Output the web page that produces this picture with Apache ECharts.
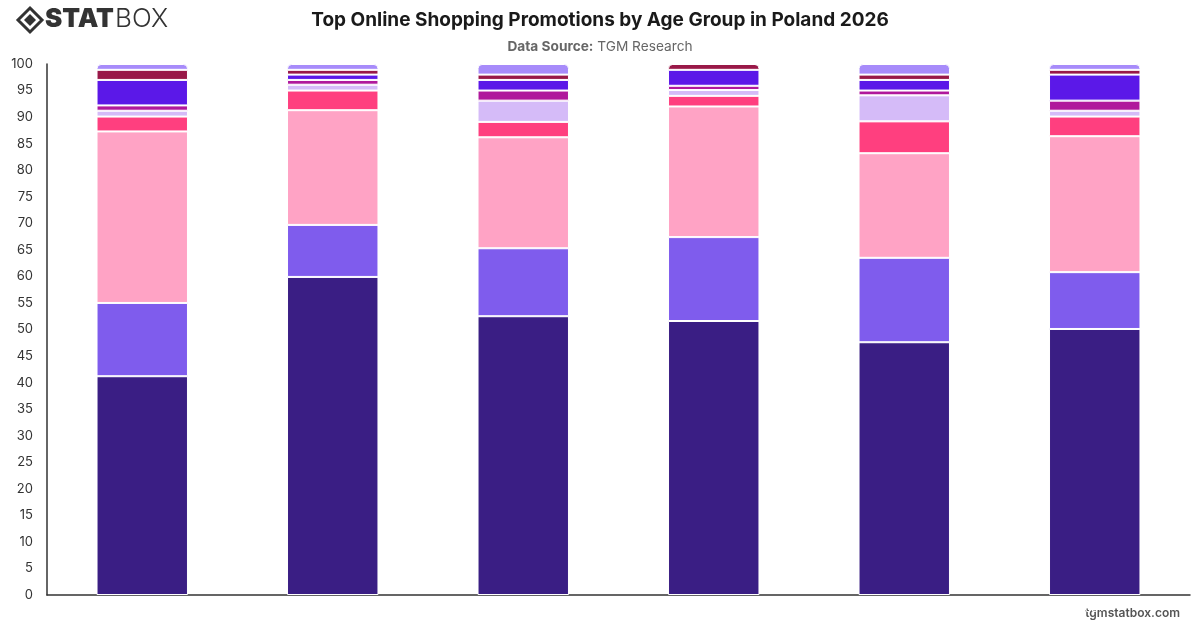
<!DOCTYPE html>
<html><head><meta charset="utf-8">
<script src="https://cdn.jsdelivr.net/npm/echarts@6/dist/echarts.min.js"></script>
<style>html,body{margin:0;padding:0;background:#fff}#c{width:1200px;height:628px}</style>
</head><body><div id="c"></div>
<script>
const categories = ["18-24", "25-34", "35-44", "45-54", "55-64", "65+"];
const seriesNames = ["Free Shipping", "Discount Codes", "Seasonal Sales", "Cashback Offers", "Loyalty Points", "Bundle Deals", "Flash Sales", "Gift with Purchase", "Other"];
const freeShipping   = [41.2, 59.9, 52.5, 51.6, 47.6, 50.1];
const discountCodes  = [13.8,  9.8, 12.8, 15.8, 15.9, 10.7];
const seasonalSales  = [32.3, 21.6, 20.9, 24.6, 19.7, 25.6];
const cashbackOffers = [ 2.8,  3.7,  2.9,  2.0,  6.0,  3.7];
const loyaltyPoints  = [ 1.1,  1.1,  4.0,  1.1,  4.9,  1.1];
const bundleDeals    = [ 1.0,  0.9,  1.9,  0.8,  0.9,  1.9];
const flashSales     = [ 4.8,  1.0,  2.0,  3.0,  2.0,  4.9];
const giftPurchase   = [ 1.9,  0.9,  1.0,  1.1,  1.0,  0.9];
const other          = [ 1.1,  1.1,  2.0,  0.0,  2.0,  1.1];
const yTicks = [0,5,10,15,20,25,30,35,40,45,50,55,60,65,70,75,80,85,90,95,100];

const allValues = [freeShipping, discountCodes, seasonalSales, cashbackOffers, loyaltyPoints, bundleDeals, flashSales, giftPurchase, other];
const colors = ["#3a1e84", "#7f5ced", "#ffa3c5", "#ff3f7f", "#d5bbf8", "#b0189c", "#5b18e8", "#991848", "#a78bfa"];

const topIdx = categories.map((_, ci) => {
  let t = 0;
  allValues.forEach((arr, si) => { if (arr[ci] > 0) t = si; });
  return t;
});

const series = allValues.map((arr, si) => ({
  name: seriesNames[si],
  type: 'bar',
  stack: 'total',
  barWidth: '48%',
  itemStyle: { color: colors[si], borderColor: '#ffffff', borderWidth: 1 },
  data: arr.map((v, ci) => ({
    value: v,
    itemStyle: topIdx[ci] === si ? { borderRadius: [4, 4, 0, 0] } : undefined
  }))
}));

const chart = echarts.init(document.getElementById('c'), null, { renderer: 'canvas' });
chart.setOption({
  animation: false,
  backgroundColor: '#ffffff',
  title: [
    { text: 'Top Online Shopping Promotions by Age Group in Poland 2026', left: 'center', top: 6,
      textStyle: { fontFamily: 'Inter', fontSize: 19, fontWeight: 'bold', color: '#1a1a1a' } },
    { text: '{b|Data Source:} {n|TGM Research}', left: 'center', top: 35,
      textStyle: { fontFamily: 'Inter', fontSize: 13.7, fontWeight: 'normal', color: '#666',
        rich: { b: { fontFamily: 'Inter', fontSize: 13.7, fontWeight: 'bold', color: '#666' },
                n: { fontFamily: 'Inter', fontSize: 13.7, fontWeight: 'normal', color: '#666' } } } }
  ],
  grid: { left: 47, right: 10, top: 64, bottom: 33, containLabel: false },
  xAxis: {
    type: 'category', data: categories,
    axisLine: { show: true, lineStyle: { color: '#333', width: 1.5 } },
    axisTick: { show: false },
    axisLabel: { color: '#ffffff', fontSize: 12 }
  },
  yAxis: {
    type: 'value', min: 0, max: 100, interval: 5,
    axisLine: { show: true, lineStyle: { color: '#333', width: 1.5 } },
    axisTick: { show: false },
    splitLine: { show: false },
    axisLabel: { color: '#333', fontSize: 13, fontFamily: 'Inter', margin: 14,
      formatter: v => yTicks.includes(v) ? String(v) : '' }
  },
  series: series,
  graphic: [
    { type: 'polygon', shape: { points: [[30,8],[42,20],[30,32],[18,20]] }, style: { fill: 'none', stroke: '#333', lineWidth: 3 } },
    { type: 'polygon', shape: { points: [[30,14],[36,20],[30,26],[24,20]] }, style: { fill: '#333' } },
    { type: 'text', left: 45, top: 6, style: { text: 'STAT', font: '900 26px "Inter"', fill: '#333' } },
    { type: 'text', left: 115, top: 6, style: { text: 'BOX', font: '300 26px "Inter"', fill: '#333' } },
    { type: 'text', right: 20, top: 607, style: { text: 'tgmstatbox.com', font: '600 12px "Inter"', fill: '#555' } }
  ]
});
</script></body></html>
